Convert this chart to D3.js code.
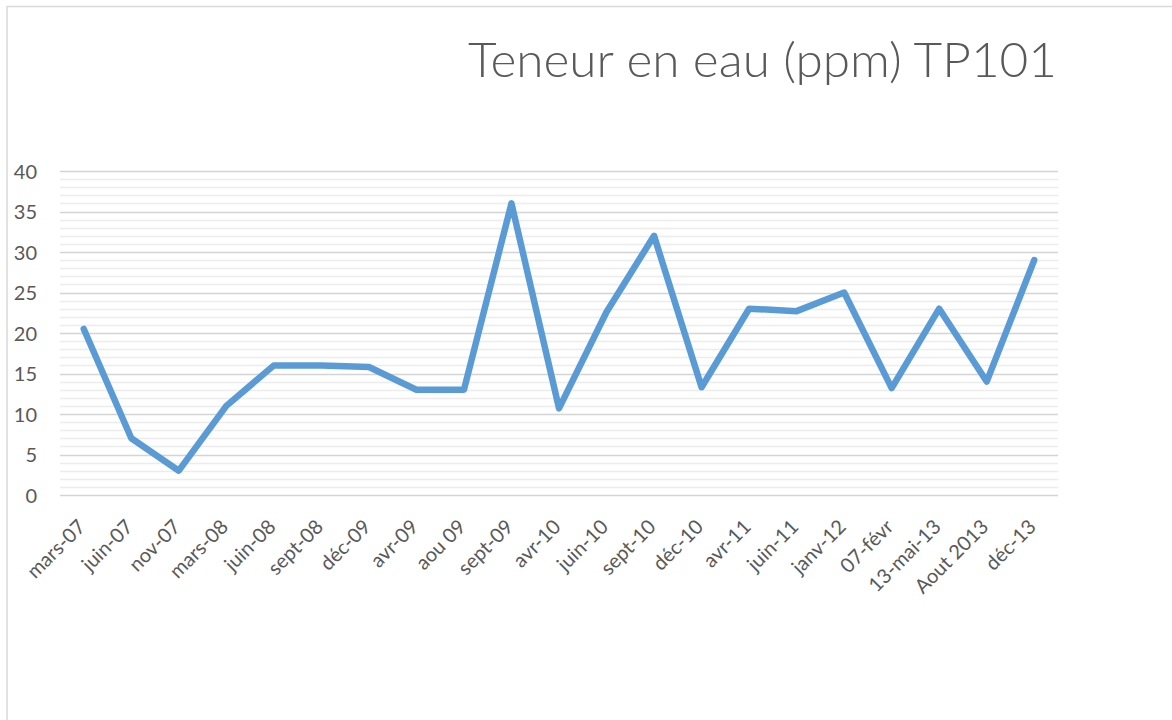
<!DOCTYPE html>
<html>
<head>
<meta charset="utf-8">
<script src="https://cdn.jsdelivr.net/npm/d3@7"></script>
<style>
  html, body { margin: 0; padding: 0; background: #ffffff; }
  svg { display: block; }
</style>
</head>
<body>
<svg id="chart" width="1172" height="720"></svg>
<script>
const title = "Teneur en eau (ppm) TP101";
const categories = ["mars-07","juin-07","nov-07","mars-08","juin-08","sept-08","déc-09","avr-09","aou 09","sept-09","avr-10","juin-10","sept-10","déc-10","avr-11","juin-11","janv-12","07-févr","13-mai-13","Aout 2013","déc-13"];
const values = [20.5, 7, 3, 11, 16, 16, 15.8, 13, 13, 36, 10.7, 22.6, 32, 13.3, 23, 22.7, 25, 13.2, 23, 14, 29];
const yTicks = [0, 5, 10, 15, 20, 25, 30, 35, 40];
const yMinor = d3.range(0, 41, 1);

const svg = d3.select("#chart");
const margin = { left: 60, right: 1058, top: 171, bottom: 495 };

// chart border (top and left visible)
svg.append("line").attr("x1", 7).attr("x2", 1172).attr("y1", 6.5).attr("y2", 6.5)
  .attr("stroke", "#d9d9d9").attr("stroke-width", 1.5);
svg.append("line").attr("x1", 7).attr("x2", 7).attr("y1", 6).attr("y2", 720)
  .attr("stroke", "#d9d9d9").attr("stroke-width", 1.5);

const x = d3.scaleBand().domain(categories).range([margin.left, margin.right]);
const y = d3.scaleLinear().domain([0, 40]).range([margin.bottom, margin.top]);

// minor gridlines
svg.append("g").selectAll("line").data(yMinor.filter(v => v % 5 !== 0)).join("line")
  .attr("x1", margin.left).attr("x2", margin.right)
  .attr("y1", d => Math.round(y(d)) + 0.5).attr("y2", d => Math.round(y(d)) + 0.5)
  .attr("stroke", "#ececec").attr("stroke-width", 1.5);

// major gridlines
svg.append("g").selectAll("line").data(yTicks).join("line")
  .attr("x1", margin.left).attr("x2", margin.right)
  .attr("y1", d => Math.round(y(d)) + 0.5).attr("y2", d => Math.round(y(d)) + 0.5)
  .attr("stroke", "#d4d4d4").attr("stroke-width", 1.5);

// y axis labels
const yAxis = d3.axisLeft(y).tickValues(yTicks).tickSize(0).tickPadding(0);
const gy = svg.append("g").attr("transform", "translate(37,0)").call(yAxis);
gy.select(".domain").remove();
gy.selectAll("text").attr("fill", "#595959").attr("font-family", "Lato, 'Open Sans', sans-serif")
  .attr("font-size", 20).attr("dy", "0.36em");

// x axis labels
const xAxis = d3.axisBottom(x).tickSize(0).tickPadding(0);
const gx = svg.append("g").attr("transform", "translate(0,0)").call(xAxis);
gx.select(".domain").remove();
gx.selectAll(".tick").attr("transform", d => `translate(${x(d) + x.bandwidth() / 2 + 3},528)`);
gx.selectAll("text")
  .attr("fill", "#595959").attr("font-family", "Lato, 'Open Sans', sans-serif").attr("font-size", 20)
  .attr("text-anchor", "end").attr("x", 0).attr("y", 0).attr("dy", 0)
  .attr("transform", "rotate(-45)");

// line
const line = d3.line()
  .x((d, i) => x(categories[i]) + x.bandwidth() / 2)
  .y(d => y(d));
svg.append("path").datum(values)
  .attr("d", line)
  .attr("fill", "none").attr("stroke", "#5b9bd5").attr("stroke-width", 6.5)
  .attr("stroke-linejoin", "round").attr("stroke-linecap", "round");

// title
svg.append("text").attr("x", 468).attr("y", 77)
  .attr("font-family", "Lato, 'Open Sans', sans-serif").attr("font-weight", 300)
  .attr("font-size", 48).attr("fill", "#595959")
  .attr("textLength", 589).attr("lengthAdjust", "spacingAndGlyphs")
  .text(title);
</script>
</body>
</html>
